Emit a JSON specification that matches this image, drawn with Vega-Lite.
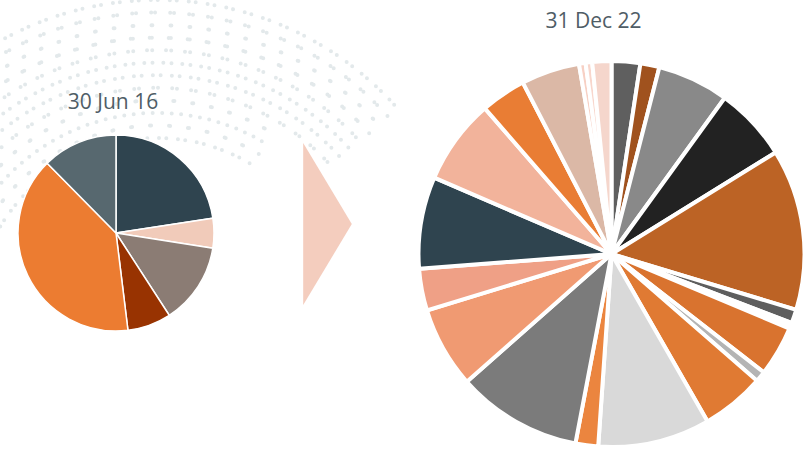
{
  "$schema": "https://vega.github.io/schema/vega-lite/v6.json",
  "padding": 0,
  "background": "white",
  "spacing": 0,
  "bounds": "flush",
  "resolve": {"scale": {"color": "independent", "theta": "independent", "radius": "independent"}},
  "config": {"view": {"stroke": null}},
  "datasets": {
    "rings": [
      {"ring": 0}, {"ring": 1}, {"ring": 2}, {"ring": 3},
      {"ring": 4}, {"ring": 5}, {"ring": 6}, {"ring": 7},
      {"ring": 8}, {"ring": 9}, {"ring": 10}, {"ring": 11}
    ],
    "jun16": [
      {"seq": 1, "segment": "J1", "share": 22.6},
      {"seq": 2, "segment": "J2", "share": 4.9},
      {"seq": 3, "segment": "J3", "share": 13.4},
      {"seq": 4, "segment": "J4", "share": 7.2},
      {"seq": 5, "segment": "J5", "share": 39.6},
      {"seq": 6, "segment": "J6", "share": 12.4}
    ],
    "dec22": [
      {"seq": 1, "segment": "D01", "share": 2.4},
      {"seq": 2, "segment": "D02", "share": 1.6},
      {"seq": 3, "segment": "D03", "share": 6.0},
      {"seq": 4, "segment": "D04", "share": 6.2},
      {"seq": 5, "segment": "D05", "share": 13.5},
      {"seq": 6, "segment": "D06", "share": 1.15},
      {"seq": 7, "segment": "D07", "share": 0.5},
      {"seq": 8, "segment": "D08", "share": 4.2},
      {"seq": 9, "segment": "D09", "share": 0.9},
      {"seq": 10, "segment": "D10", "share": 5.3},
      {"seq": 11, "segment": "D11", "share": 9.4},
      {"seq": 12, "segment": "D12", "share": 1.9},
      {"seq": 13, "segment": "D13", "share": 10.5},
      {"seq": 14, "segment": "D14", "share": 6.8},
      {"seq": 15, "segment": "D15", "share": 3.5},
      {"seq": 16, "segment": "D16", "share": 7.7},
      {"seq": 17, "segment": "D17", "share": 7.15},
      {"seq": 18, "segment": "D18", "share": 3.8},
      {"seq": 19, "segment": "D19", "share": 4.9},
      {"seq": 20, "segment": "D20", "share": 0.55},
      {"seq": 21, "segment": "D21", "share": 0.55},
      {"seq": 22, "segment": "D22", "share": 1.6}
    ],
    "arrow": [{"label": "to"}]
  },
  "hconcat": [
    {
      "width": 232,
      "height": 450,
      "layer": [
        {
          "data": {"name": "rings"},
          "transform": [{"filter": "datum.ring <= 7"}],
          "mark": {"type": "arc", "clip": true, "filled": false, "stroke": "#E3E9EB", "strokeWidth": 4, "strokeCap": "round", "strokeDash": [0, 19], "theta": -1.3, "theta2": 0.85, "xOffset": 41, "yOffset": 96},
          "encoding": {
            "radius": {"field": "ring", "type": "quantitative", "scale": {"type": "linear", "zero": false, "domain": [0, 11], "range": [321, 183]}},
            "radius2": {"field": "ring"}
          }
        },
        {
          "data": {"name": "rings"},
          "transform": [{"filter": "datum.ring > 7"}],
          "mark": {"type": "arc", "clip": true, "filled": false, "stroke": "#E3E9EB", "strokeWidth": 4, "strokeCap": "round", "strokeDash": [0, 19], "theta": -1.3, "theta2": 0.55, "xOffset": 41, "yOffset": 96},
          "encoding": {
            "radius": {"field": "ring", "type": "quantitative", "scale": {"type": "linear", "zero": false, "domain": [0, 11], "range": [321, 183]}},
            "radius2": {"field": "ring"}
          }
        },
        {
          "data": {"name": "jun16"},
          "mark": {"type": "arc", "outerRadius": 98, "stroke": "white", "strokeWidth": 1.5, "yOffset": 8},
          "encoding": {
            "theta": {"field": "share", "type": "quantitative", "stack": true},
            "order": {"field": "seq", "type": "quantitative"},
            "color": {
              "field": "segment", "type": "nominal", "legend": null,
              "scale": {
                "domain": ["J1", "J2", "J3", "J4", "J5", "J6"],
                "range": ["#2F444F", "#F1CBBA", "#8B7C74", "#983301", "#EC7C31", "#57686F"]
              }
            }
          }
        },
        {
          "data": {"values": [{"date": "30 Jun 16"}]},
          "mark": {"type": "text", "font": "Open Sans", "fontSize": 21, "color": "#4F5D66", "dx": -3, "dy": -116, "baseline": "alphabetic", "align": "center"},
          "encoding": {"text": {"field": "date", "type": "nominal"}}
        }
      ]
    },
    {
      "width": 191,
      "height": 450,
      "layer": [
        {
          "data": {"name": "rings"},
          "transform": [{"filter": "datum.ring <= 7"}],
          "mark": {"type": "arc", "clip": true, "filled": false, "stroke": "#E3E9EB", "strokeWidth": 4, "strokeCap": "round", "strokeDash": [0, 19], "theta": -1.3, "theta2": 0.85, "xOffset": -170.5, "yOffset": 96},
          "encoding": {
            "radius": {"field": "ring", "type": "quantitative", "scale": {"type": "linear", "zero": false, "domain": [0, 11], "range": [321, 183]}},
            "radius2": {"field": "ring"}
          }
        },
        {
          "data": {"name": "rings"},
          "transform": [{"filter": "datum.ring > 7"}],
          "mark": {"type": "arc", "clip": true, "filled": false, "stroke": "#E3E9EB", "strokeWidth": 4, "strokeCap": "round", "strokeDash": [0, 19], "theta": -1.3, "theta2": 0.55, "xOffset": -170.5, "yOffset": 96},
          "encoding": {
            "radius": {"field": "ring", "type": "quantitative", "scale": {"type": "linear", "zero": false, "domain": [0, 11], "range": [321, 183]}},
            "radius2": {"field": "ring"}
          }
        },
        {
          "data": {"name": "arrow"},
          "mark": {"type": "point", "shape": "M-0.3,-1L0.3,0L-0.3,1Z", "size": 26244, "filled": true, "fill": "#F4CDBE", "opacity": 1, "strokeWidth": 0, "yOffset": -1},
          "encoding": {}
        }
      ]
    },
    {
      "width": 377,
      "height": 450,
      "layer": [
        {
          "data": {"name": "dec22"},
          "mark": {"type": "arc", "outerRadius": 193, "stroke": "white", "strokeWidth": 4, "yOffset": 29},
          "encoding": {
            "theta": {"field": "share", "type": "quantitative", "stack": true},
            "order": {"field": "seq", "type": "quantitative"},
            "color": {
              "field": "segment", "type": "nominal", "legend": null,
              "scale": {
                "domain": ["D01", "D02", "D03", "D04", "D05", "D06", "D07", "D08", "D09", "D10", "D11", "D12", "D13", "D14", "D15", "D16", "D17", "D18", "D19", "D20", "D21", "D22"],
                "range": ["#5F5F5F", "#A0521E", "#898989", "#222222", "#BC6325", "#5E5E5E", "#FFFFFF", "#D9732F", "#B4B4B4", "#E07A33", "#D9D9D9", "#EB853F", "#7B7B7B", "#F09A72", "#EFA086", "#2F444F", "#F2B39B", "#E97D34", "#DBB8A6", "#F7D0C4", "#F8D6CC", "#F5D6CC"]
              }
            }
          }
        },
        {
          "data": {"values": [{"date": "31 Dec 22"}]},
          "mark": {"type": "text", "font": "Open Sans", "fontSize": 21, "color": "#4F5D66", "dx": -18, "dy": -197, "baseline": "alphabetic", "align": "center"},
          "encoding": {"text": {"field": "date", "type": "nominal"}}
        }
      ]
    }
  ]
}
